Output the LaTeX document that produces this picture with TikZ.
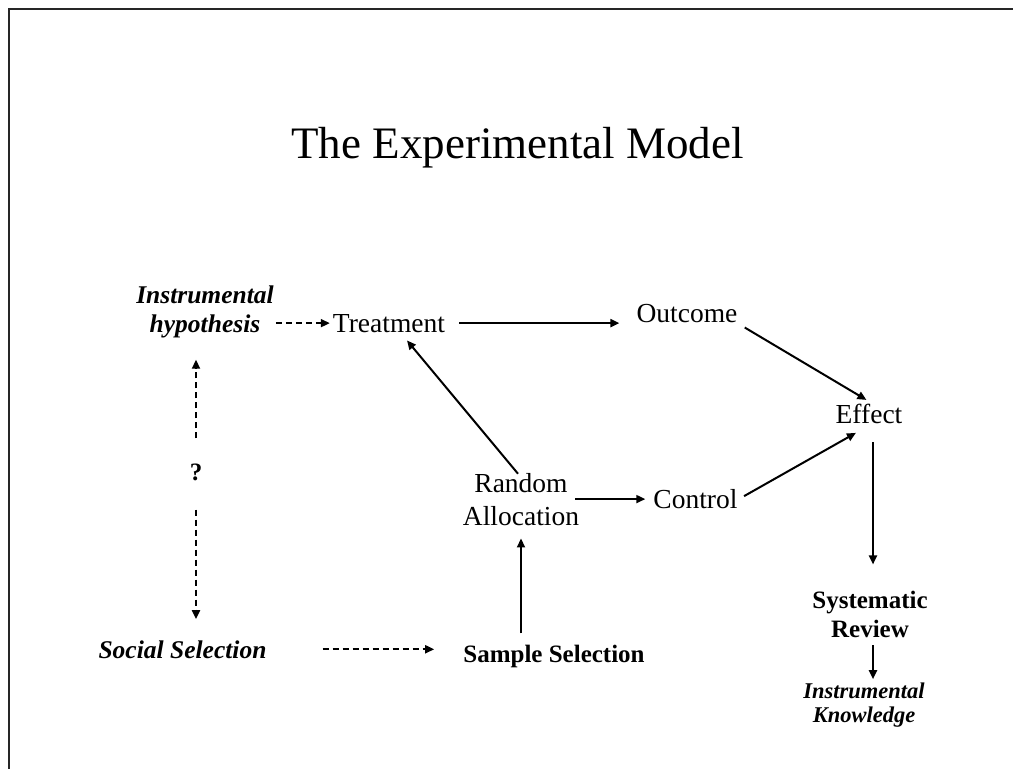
\documentclass[tikz,border=0pt]{standalone}
\usepackage{fontspec}
\setmainfont{Liberation Serif}
\usetikzlibrary{arrows.meta}
\begin{document}
\begin{tikzpicture}[x=1pt,y=-1pt,
  lbl/.style={inner sep=2pt, anchor=base, align=center},
  reg/.style={lbl, font=\fontsize{27.5}{33}\selectfont},
  bld/.style={lbl, font=\fontsize{25}{29}\selectfont\bfseries},
  bit/.style={lbl, font=\fontsize{25.5}{29}\selectfont\bfseries\itshape},
  bits/.style={lbl, font=\fontsize{22.5}{24}\selectfont\bfseries\itshape},
  arr/.style={-{Triangle[length=9pt,width=8pt]}, line width=2pt},
  darr/.style={arr, dash pattern=on 6pt off 4pt},
  frameline/.style={line width=2.4pt, black!85}
]
\useasboundingbox (0,0) rectangle (1013,769);
\draw[frameline] (9,769) -- (9,9) -- (1013,9);

\node[lbl, font=\fontsize{45}{54}\selectfont] (title) at (517.5,158) {The Experimental Model};

\node[bit] (ih) at (205,332) {Instrumental\\hypothesis};
\node[reg] (treat) at (389,332) {Treatment};
\node[reg] (outc) at (687,322) {Outcome};
\node[reg] (effect) at (869,423) {Effect};
\node[reg] (ra) at (521,525) {Random\\Allocation};
\node[reg] (ctrl) at (695.5,508) {Control};
\node[bld] (q) at (196,480) {?};
\node[bit] (soc) at (182.5,658) {Social Selection};
\node[bld] (ss) at (554,662) {Sample Selection};
\node[bld] (sys) at (870,637) {Systematic\\Review};
\node[bits] (ik) at (864,722) {Instrumental\\Knowledge};

\draw[darr, shorten >=1pt] (ih.east |- treat.west) -- (treat.west);
\draw[arr, shorten <=12pt, shorten >=15pt] (treat.east) -- (treat.east -| outc.west);
\draw[arr, shorten <=6pt, shorten >=3pt] (outc.south east) -- (effect.north);
\draw[arr] ([xshift=-3pt,yshift=-3pt]ra.north) -- ([xshift=18pt,yshift=-6pt]treat.south);
\draw[arr, shorten >=6pt] ([xshift=-6pt]ra.east) -- (ra.east -| ctrl.west);
\draw[arr, shorten <=5pt, shorten >=15pt] (ctrl.east) -- (effect.south);
\draw[arr, shorten <=17pt, shorten >=24pt] ([xshift=4pt]effect.south) -- ([xshift=4pt]effect.south |- sys.north);
\draw[arr, shorten <=6pt, shorten >=1pt] ([xshift=3pt]sys.south) -- ([xshift=3pt]sys.south |- ik.north);
\draw[arr, shorten <=9pt, shorten >=11pt] (ra.south |- ss.north) -- (ra.south);
\draw[darr, shorten <=54pt, shorten >=27pt] (soc.east) -- (soc.east -| ss.west);
\draw[darr, shorten <=23pt, shorten >=20pt] (q.north) -- (q.north |- ih.south);
\draw[darr, shorten <=27pt, shorten >=19pt] (q.south) -- (q.south |- soc.north);
\end{tikzpicture}
\end{document}
